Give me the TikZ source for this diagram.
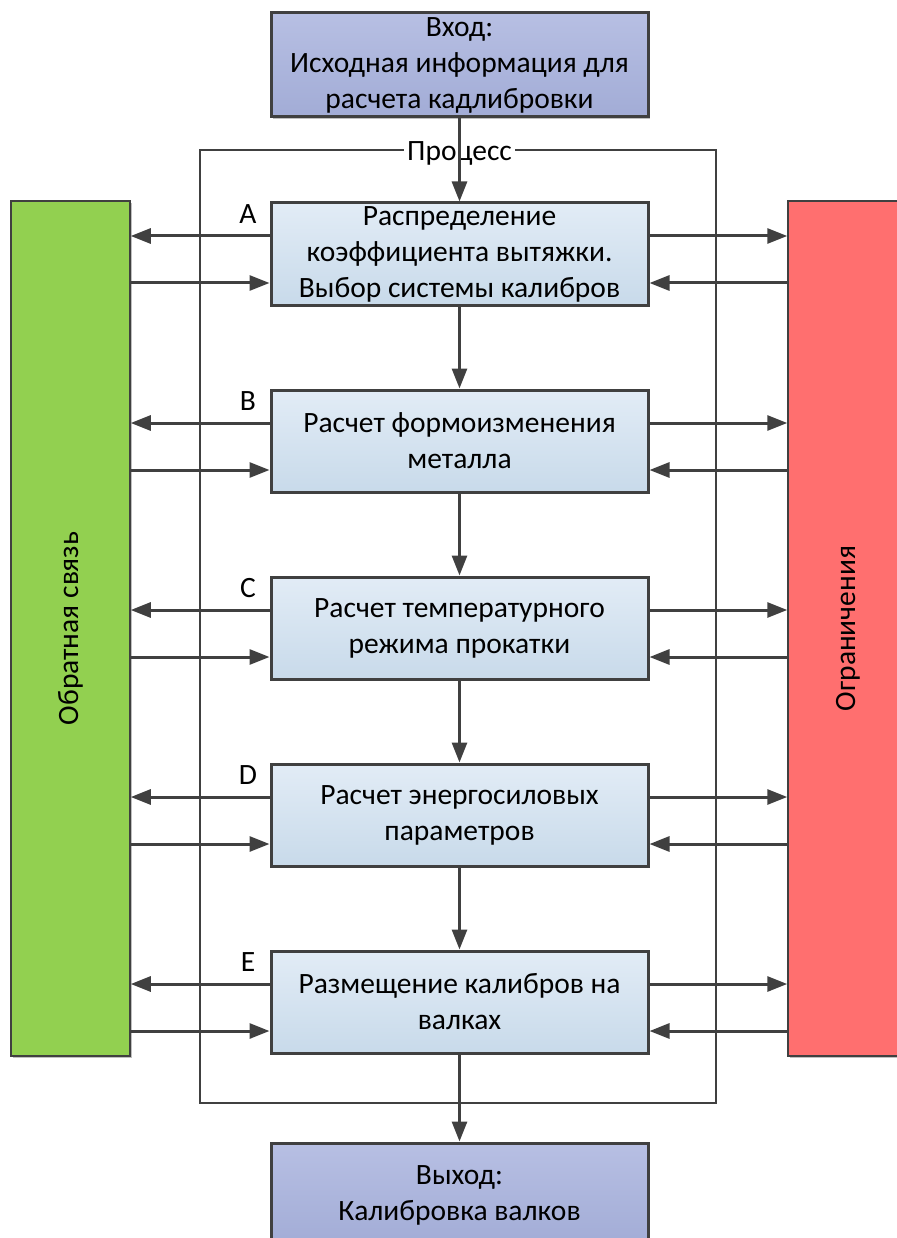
\documentclass[tikz,border=0pt]{standalone}
\usepackage{fontspec}
\setmainfont{Carlito}
\usetikzlibrary{arrows.meta,shadows}
\definecolor{edge}{HTML}{404040}
\definecolor{inTop}{HTML}{B7BFE3}
\definecolor{inBot}{HTML}{A2ACD6}
\definecolor{stTop}{HTML}{E2ECF6}
\definecolor{stBot}{HTML}{C8DAEA}
\definecolor{fbGreen}{HTML}{92D050}
\definecolor{limRed}{HTML}{FF6F6F}
\tikzset{
  txt/.style={font=\fontsize{29.5}{36}\selectfont, text=black},
  softshadow/.style={drop shadow={shadow xshift=2pt, shadow yshift=-2pt, opacity=0.25, fill=black}},
  iobox/.style={txt, draw=edge, line width=3pt, top color=inTop, bottom color=inBot,
    minimum width=377pt, minimum height=104pt, inner sep=0pt, align=center, softshadow},
  stagebox/.style={txt, draw=edge, line width=3pt, top color=stTop, bottom color=stBot,
    minimum width=377pt, minimum height=102pt, inner sep=0pt, align=center, softshadow},
  sidebar/.style={txt, draw=edge, line width=1.5pt, minimum height=855pt, inner sep=0pt, softshadow},
  arr/.style={draw=edge, line width=3pt, -{Triangle[length=20pt,width=15pt]}},
  framebox/.style={draw=edge, line width=2.2pt},
  tag/.style={txt, inner sep=0pt},
}
\begin{document}
\begin{tikzpicture}[x=1pt, y=-1pt]
\useasboundingbox (0,0) rectangle (896,1238);

% process frame with its caption
\draw[framebox] (200,150) rectangle (716,1103);
\node[txt, fill=white, inner sep=3pt] (proc) at (459.5,153) {Процесс};

% side bars
\node[sidebar, fill=fbGreen, minimum width=119pt] (fb) at (70.5,628.5) {};
\node[txt, rotate=90] (fbt) at (fb) {Обратная связь};
\node[sidebar, fill=limRed, minimum width=124pt] (lim) at (850,628.5) {};
\node[txt, rotate=90] (limt) at (848,628.5) {Ограничения};

% input and output
\node[iobox] (in) at (459.5,65) {Вход:\\Исходная информация для\\расчета кадлибровки};
\node[iobox] (out) at (459.5,1195) {Выход:\\Калибровка валков};

% stages
\node[stagebox] (A) at (459.5,254) {Распределение\\коэффициента вытяжки.\\Выбор системы калибров};
\node[stagebox] (B) at (459.5,441) {Расчет формоизменения\\металла};
\node[stagebox] (C) at (459.5,628) {Расчет температурного\\режима прокатки};
\node[stagebox] (D) at (459.5,815) {Расчет энергосиловых\\параметров};
\node[stagebox] (E) at (459.5,1002) {Размещение калибров на\\валках};

% main flow
\draw[arr] (in) -- (A);
\draw[arr] (A) -- (B);
\draw[arr] (B) -- (C);
\draw[arr] (C) -- (D);
\draw[arr] (D) -- (E);
\draw[arr] (E) -- (out);

% exchange with the side bars and stage letters
\foreach \s/\y in {A/203,B/390,C/577,D/764,E/951}{
  \node[tag] (lbl\s) at (248,\y+11) {\s};
  \draw[arr] (\s.west |- 0,\y+33) -- (fb.east |- 0,\y+33);
  \draw[arr] (fb.east |- 0,\y+80) -- (\s.west |- 0,\y+80);
  \draw[arr] (\s.east |- 0,\y+33) -- (lim.west |- 0,\y+33);
  \draw[arr] (lim.west |- 0,\y+80) -- (\s.east |- 0,\y+80);
}
\end{tikzpicture}
\end{document}
